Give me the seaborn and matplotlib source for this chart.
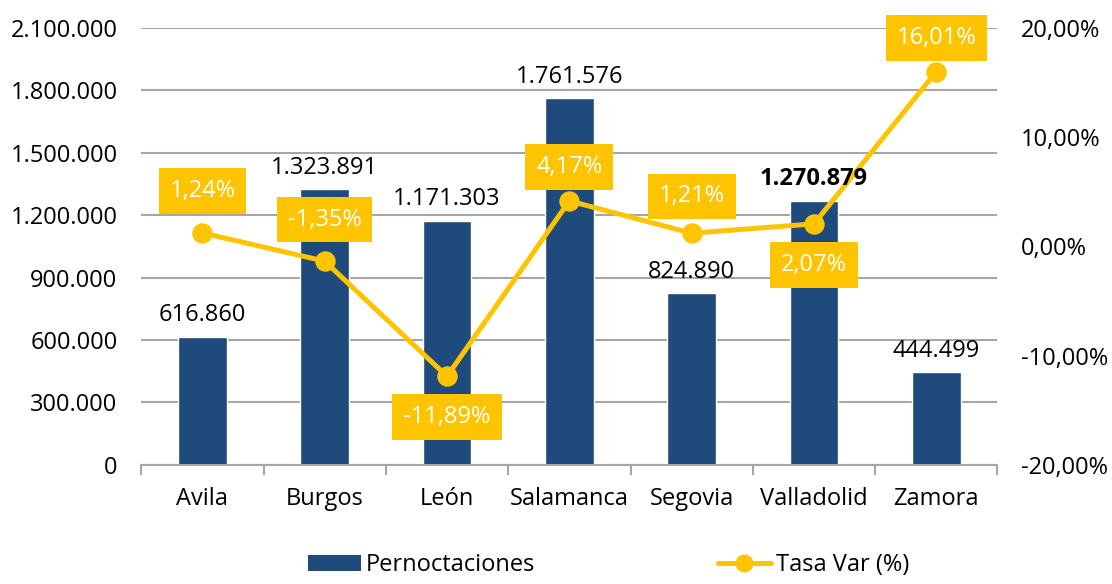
import numpy as np
import pandas as pd
import matplotlib
matplotlib.use("Agg")
import matplotlib.pyplot as plt
import seaborn as sns
from matplotlib.ticker import FuncFormatter, FixedLocator
from matplotlib.lines import Line2D
from matplotlib.patches import Patch

provincias = ["Avila", "Burgos", "León", "Salamanca", "Segovia", "Valladolid", "Zamora"]
pernoctaciones = [616860, 1323891, 1171303, 1761576, 824890, 1270879, 444499]
tasa_var = [1.24, -1.35, -11.89, 4.17, 1.21, 2.07, 16.01]

sns.set_theme(style="white")
plt.rcParams['font.family'] = ['Open Sans', 'DejaVu Sans']
plt.rcParams['text.color'] = 'black'

azul = "#1F4A7C"
amarillo = "#FFC400"
gris = "#A6A6A6"
fs = 17

df = pd.DataFrame({"provincia": provincias, "pern": pernoctaciones, "tasa": tasa_var})

fig = plt.figure(figsize=(11.12, 5.84), dpi=100)
ax = fig.add_axes([0.127, 0.204, 0.770, 0.748])

sns.barplot(data=df, x="provincia", y="pern", color=azul, width=0.4, ax=ax, saturation=1)
ax.set_ylim(0, 2100000)
ax.set_yticks(np.arange(0, 2100001, 300000))
ax.yaxis.set_major_formatter(FuncFormatter(lambda v, p: f"{int(v):,}".replace(",", ".")))
ax.grid(axis="y", color=gris, linewidth=1.5)
ax.set_axisbelow(True)
ax.set_xlabel("")
ax.set_ylabel("")
for s in ["left", "right", "top"]:
    ax.spines[s].set_visible(False)
ax.spines["bottom"].set_color(gris)
ax.spines["bottom"].set_linewidth(1.5)
ax.set_xlim(-0.5, len(provincias) - 0.5)
ax.xaxis.set_minor_locator(FixedLocator(np.arange(-0.5, len(provincias), 1)))
ax.tick_params(axis="x", which="major", length=0, labelsize=fs, pad=16, colors="black")
ax.tick_params(axis="x", which="minor", bottom=True, length=7, width=1.5, color=gris)
ax.tick_params(axis="y", length=0, labelsize=fs, pad=17, colors="black")

ax2 = ax.twinx()
sns.pointplot(data=df, x="provincia", y="tasa", color=amarillo, markers="o",
              linestyles="-", ax=ax2, markersize=12, linewidth=3.6, errorbar=None)
ax2.set_ylim(-20, 20)
ax2.set_xlim(-0.5, len(provincias) - 0.5)
ax2.set_yticks([-20, -10, 0, 10, 20])
ax2.yaxis.set_major_formatter(FuncFormatter(lambda v, p: f"{v:.2f}".replace(".", ",") + "%"))
ax2.tick_params(axis="y", length=0, labelsize=fs, pad=17, colors="black")
ax2.set_ylabel("")
for s in ax2.spines.values():
    s.set_visible(False)

# etiquetas de las barras (encima de la linea)
for i, v in enumerate(pernoctaciones):
    ax2.annotate(f"{v:,}".replace(",", "."), (i, v), xycoords=ax.transData,
                 xytext=(0, 7), textcoords="offset points", color="black",
                 ha="center", va="bottom", fontsize=fs, zorder=10,
                 fontweight="bold" if provincias[i] == "Valladolid" else "normal")

# desplazamiento de las etiquetas (pt) arriba/abajo del punto
desp = [30, 30, -29.5, 24.5, 26.5, -29.5, 24]
for i, v in enumerate(tasa_var):
    ax2.annotate(f"{v:.2f}".replace(".", ",") + "%", (i, v), xytext=(0, desp[i]),
                 textcoords="offset points", ha="center", va="center", color="white",
                 fontsize=fs, zorder=11,
                 bbox=dict(boxstyle="square,pad=0.46", fc=amarillo, ec="none"))

handles = [Patch(facecolor=azul, edgecolor="none"),
           Line2D([0], [0], color=amarillo, lw=3.6, marker="o", markersize=12)]
fig.legend(handles, ["Pernoctaciones", "Tasa Var (%)"], loc="center", ncol=2,
           bbox_to_anchor=(0.547, 0.032), frameon=False, fontsize=fs,
           handlelength=2.25, handletextpad=0.2, columnspacing=7.75)

fig.savefig("out.png", dpi=100)
